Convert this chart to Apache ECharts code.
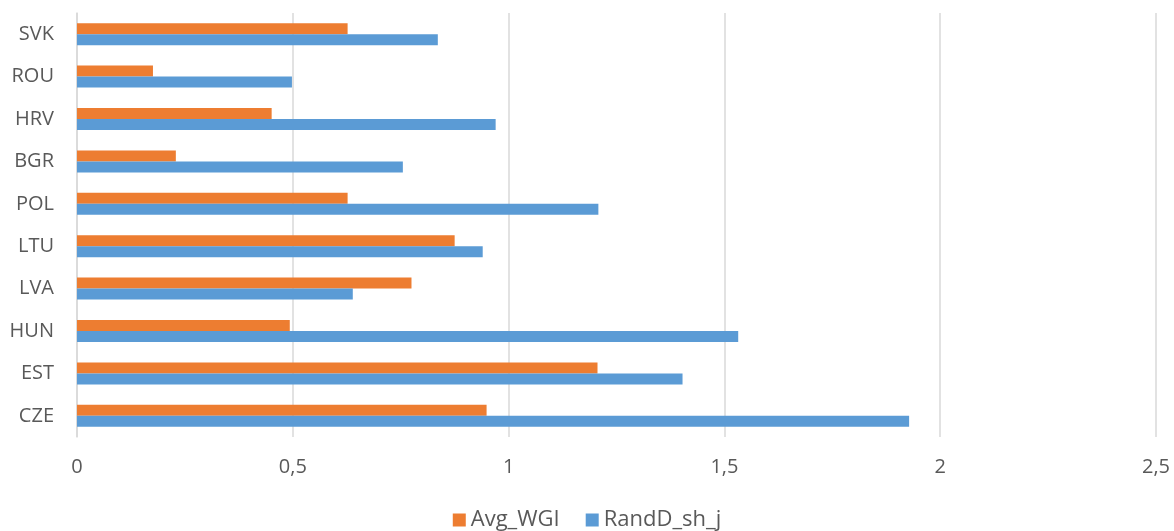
<!DOCTYPE html>
<html>
<head>
<meta charset="utf-8">
<script src="https://cdn.jsdelivr.net/npm/echarts@6/dist/echarts.min.js"></script>
<style>
  html, body { margin: 0; padding: 0; background: #fff; }
  #chart { width: 1174px; height: 531px; }
</style>
</head>
<body>
<div id="chart"></div>
<script>
// Countries, listed bottom-to-top along the category axis
const countries = ['CZE', 'EST', 'HUN', 'LVA', 'LTU', 'POL', 'BGR', 'HRV', 'ROU', 'SVK'];
const avgWgi = [0.949, 1.206, 0.493, 0.775, 0.875, 0.627, 0.229, 0.451, 0.176, 0.627];
const randdShJ = [1.928, 1.403, 1.532, 0.639, 0.940, 1.208, 0.755, 0.970, 0.498, 0.836];
const xTicks = { min: 0, max: 2.5, interval: 0.5 };

const textColor = '#595959';
const fontFamily = '"Open Sans", "Liberation Sans", sans-serif';

const chart = echarts.init(document.getElementById('chart'));
chart.setOption({
  animation: false,
  textStyle: { fontFamily: fontFamily, color: textColor },
  grid: { left: 77, right: 18, top: 13, bottom: 94 },
  legend: {
    data: ['Avg_WGI', 'RandD_sh_j'],
    left: 'center',
    top: 504,
    itemWidth: 13,
    itemHeight: 13,
    itemGap: 26,
    icon: 'rect',
    textStyle: { fontSize: 22, color: textColor, fontFamily: fontFamily }
  },
  xAxis: {
    type: 'value',
    min: xTicks.min,
    max: xTicks.max,
    interval: xTicks.interval,
    axisLine: { show: false },
    axisTick: { show: false },
    splitLine: { lineStyle: { color: '#d9d9d9', width: 1.5 } },
    axisLabel: {
      fontSize: 20,
      color: textColor,
      margin: 20,
      formatter: v => String(v).replace('.', ',')
    }
  },
  yAxis: {
    type: 'category',
    data: countries,
    axisLine: { lineStyle: { color: '#d9d9d9', width: 1.5 } },
    axisTick: { show: false },
    axisLabel: { fontSize: 20, color: textColor, margin: 23 }
  },
  series: [
    {
      name: 'Avg_WGI',
      type: 'bar',
      data: avgWgi,
      barWidth: 11,
      barGap: '0%',
      itemStyle: { color: '#ed7d31' }
    },
    {
      name: 'RandD_sh_j',
      type: 'bar',
      data: randdShJ,
      barWidth: 11,
      barGap: '0%',
      itemStyle: { color: '#5b9bd5' }
    }
  ]
});
</script>
</body>
</html>
